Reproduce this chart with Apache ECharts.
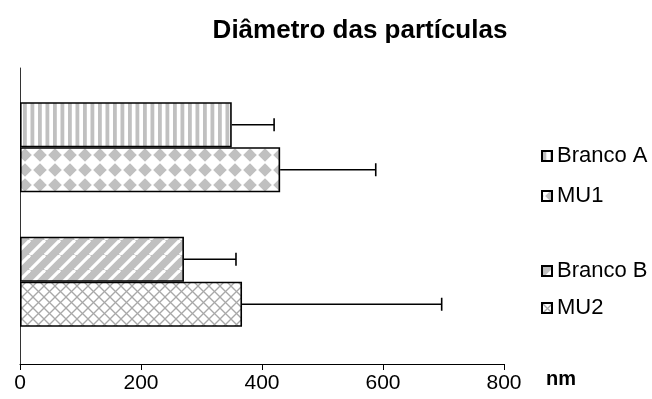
<!DOCTYPE html>
<html>
<head>
<meta charset="utf-8">
<script src="https://cdn.jsdelivr.net/npm/echarts@6/dist/echarts.min.js"></script>
<style>html,body{margin:0;padding:0;background:#fff;}#c{width:652px;height:399px;}</style>
</head>
<body>
<div id="c"></div>
<script>
// ---- data ----
var groups = ['Grupo B', 'Grupo A'];          // bottom -> top on the category axis
var seriesNames = ['Branco A', 'MU1', 'Branco B', 'MU2'];
var brancoA = ['-', 350];
var mu1 = ['-', 430];
var brancoB = [271, '-'];
var mu2 = [367, '-'];
var errBrancoA = 70;
var errMU1 = 158;
var errBrancoB = 86;
var errMU2 = 330;
var xTicks = [0, 200, 400, 600, 800];
var unitLabel = 'nm';

// ---- patterns ----
function tile(w, h, draw) {
  var c = document.createElement('canvas');
  c.width = w; c.height = h;
  var g = c.getContext('2d');
  g.fillStyle = '#fff'; g.fillRect(0, 0, w, h);
  draw(g, w, h);
  return { image: c, repeat: 'repeat' };
}
var GRAY = '#c0c0c0';
var patVert = tile(15, 4, function (g) {
  g.fillStyle = GRAY;
  g.fillRect(0.5, 0, 3.8, 4);
  g.fillRect(8, 0, 3.8, 4);
});
var patDiamond = tile(15, 15, function (g) {
  g.fillStyle = GRAY;
  var cx = 10, cy = 5, r = 6.8;
  for (var dx = -15; dx <= 15; dx += 15) for (var dy = -15; dy <= 15; dy += 15) {
    g.beginPath();
    g.moveTo(cx + dx, cy + dy - r);
    g.lineTo(cx + dx + r, cy + dy);
    g.lineTo(cx + dx, cy + dy + r);
    g.lineTo(cx + dx - r, cy + dy);
    g.closePath(); g.fill();
  }
});
var patDiag = tile(15, 15, function (g) {
  g.fillStyle = GRAY; g.fillRect(0, 0, 15, 15);
  g.strokeStyle = '#ffffff'; g.lineWidth = 3.2;
  for (var k = -15; k <= 15; k += 15) {
    g.beginPath(); g.moveTo(k, 15); g.lineTo(k + 15, 0); g.stroke();
  }
});
var patCross = tile(11, 11, function (g) {
  g.strokeStyle = '#a8a8a8'; g.lineWidth = 1.3;
  for (var k = -11; k <= 11; k += 11) {
    g.beginPath(); g.moveTo(k, 11); g.lineTo(k + 11, 0); g.stroke();
    g.beginPath(); g.moveTo(k, 0); g.lineTo(k + 11, 11); g.stroke();
  }
});

var GAP = 0.331; // barCategoryGap fraction
var FONT = 'Liberation Sans, Arial, sans-serif';

function barSeries(name, data, stack, pat) {
  return {
    type: 'bar', name: name, data: data, stack: stack,
    xAxisIndex: 1, yAxisIndex: 1,
    barCategoryGap: (GAP * 100) + '%', barGap: '0%',
    itemStyle: { color: pat, borderColor: '#000', borderWidth: 1.6 },
    emphasis: { disabled: true },
    silent: true
  };
}

var errData = [
  [brancoA[1], errBrancoA, 1, 0],
  [mu1[1], errMU1, 1, 1],
  [brancoB[0], errBrancoB, 0, 0],
  [mu2[0], errMU2, 0, 1]
];

var legendText = { fontFamily: FONT, fontSize: 22, color: '#000', lineHeight: 22 };

var chart = echarts.init(document.getElementById('c'), null, { renderer: 'canvas' });
chart.setOption({
  animation: false,
  backgroundColor: '#fff',
  title: {
    text: 'Diâmetro das partículas',
    left: 355, textAlign: 'center', top: 13,
    textStyle: { fontFamily: FONT, fontSize: 26, fontWeight: 'bold', color: '#000' }
  },
  legend: [
    {
      data: ['Branco A', 'MU1'], orient: 'vertical', left: 536, top: 140,
      itemWidth: 10, itemHeight: 10, itemGap: 18, icon: 'rect',
      textStyle: legendText, selectedMode: false
    },
    {
      data: ['Branco B', 'MU2'], orient: 'vertical', left: 536, top: 255,
      itemWidth: 10, itemHeight: 10, itemGap: 15, icon: 'rect',
      textStyle: legendText, selectedMode: false
    }
  ],
  grid: [
    { left: 20, width: 484, top: 68, height: 296 },
    { left: 20, width: 484, top: 80, height: 269 }
  ],
  graphic: [
    {
      type: 'text', left: 546, top: 369, silent: true,
      style: { text: unitLabel, fontFamily: FONT, fontSize: 20, fontWeight: 'bold', fill: '#000' }
    }
  ],
  xAxis: [
    {
      gridIndex: 0, type: 'value', min: xTicks[0], max: xTicks[xTicks.length - 1],
      interval: xTicks[1] - xTicks[0],
      axisLine: { show: true, onZero: false, lineStyle: { color: '#000', width: 1 } },
      axisTick: { show: true, length: 6, lineStyle: { color: '#000' } },
      axisLabel: { fontFamily: FONT, fontSize: 21, color: '#000', margin: 9 },
      splitLine: { show: false }
    },
    {
      gridIndex: 1, type: 'value', min: xTicks[0], max: xTicks[xTicks.length - 1], show: false
    }
  ],
  yAxis: [
    {
      gridIndex: 0, type: 'value', min: 0, max: 1,
      axisLine: { show: true, onZero: false, lineStyle: { color: '#333', width: 1 } },
      axisTick: { show: false }, axisLabel: { show: false }, splitLine: { show: false }
    },
    {
      gridIndex: 1, type: 'category', data: groups, show: false
    }
  ],
  series: [
    barSeries(seriesNames[0], brancoA, 'p', patVert),
    barSeries(seriesNames[1], mu1, 'q', patDiamond),
    barSeries(seriesNames[2], brancoB, 'p', patDiag),
    barSeries(seriesNames[3], mu2, 'q', patCross),
    {
      type: 'custom', xAxisIndex: 1, yAxisIndex: 1, silent: true, z: 5,
      data: errData,
      encode: { x: [0, 1], y: 2 },
      renderItem: function (params, api) {
        var mean = api.value(0), err = api.value(1), cat = api.value(2), slot = api.value(3);
        var p0 = api.coord([mean, cat]);
        var p1 = api.coord([mean + err, cat]);
        var band = api.size([0, 1])[1];
        var bw = band * (1 - GAP) / 2;
        var y = p0[1] + (slot === 0 ? -bw / 2 : bw / 2);
        var st = { stroke: '#000', lineWidth: 1.6 };
        return {
          type: 'group',
          children: [
            { type: 'line', shape: { x1: p0[0], y1: y, x2: p1[0], y2: y }, style: st },
            { type: 'line', shape: { x1: p1[0], y1: y - 6.5, x2: p1[0], y2: y + 6.5 }, style: st }
          ]
        };
      }
    }
  ]
});
</script>
</body>
</html>
